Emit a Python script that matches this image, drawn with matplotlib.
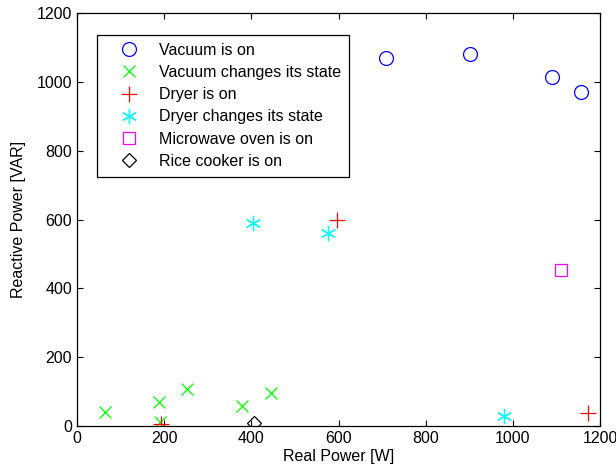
import matplotlib
matplotlib.use('Agg')
import matplotlib.pyplot as plt

plt.rcParams['font.family'] = ['Liberation Sans', 'DejaVu Sans']
plt.rcParams['font.size'] = 11

# readings (real power W, reactive power VAR)
vac_on_x = [709, 902, 1091, 1156]
vac_on_y = [1070, 1081, 1015, 971]
vac_chg_x = [64, 187, 252, 190, 379, 446]
vac_chg_y = [40, 69, 107, 13, 58, 96]
dry_on_x = [192, 597, 1173]
dry_on_y = [6, 600, 37]
dry_chg_x = [404, 575, 980]
dry_chg_y = [590, 560, 30]
micro_x = [1110]
micro_y = [453]
rice_x = [407]
rice_y = [8]

fig = plt.figure(figsize=(6.16, 4.68), dpi=100)
ax = fig.add_axes([77/616, 42/468, 523/616, 413/468])

ms = 10
ax.plot(vac_on_x, vac_on_y, 'o', mfc='none', mec='#0000ff', ms=ms, mew=0.9, label='Vacuum is on')
ax.plot(vac_chg_x, vac_chg_y, 'x', color='#00ff00', ms=ms - 1, mew=0.9, label='Vacuum changes its state')
ax.plot(dry_on_x, dry_on_y, '+', color='#ff0000', ms=ms + 1, mew=0.9, label='Dryer is on')
ax.plot(dry_chg_x, dry_chg_y, ls='none', color='#00ffff', ms=ms + 1, mew=0.9,
        marker=(6, 2, 0), label='Dryer changes its state')
ax.plot(micro_x, micro_y, 's', mfc='none', mec='#ff00ff', ms=ms - 1, mew=0.9, label='Microwave oven is on')
ax.plot(rice_x, rice_y, 'D', mfc='none', mec='black', ms=ms - 2.5, mew=0.9, label='Rice cooker is on')

ax.set_xlim(0, 1200)
ax.set_ylim(0, 1200)
ax.set_xticks(range(0, 1201, 200))
ax.set_yticks(range(0, 1201, 200))
ax.tick_params(direction='in', top=True, right=True, length=4, width=0.8, labelsize=11.5)
for s in ax.spines.values():
    s.set_linewidth(0.9)
ax.set_xlabel('Real Power [W]', labelpad=2, fontsize=11.5)
ax.set_ylabel('Reactive Power [VAR]', labelpad=8, fontsize=11.5)

leg = ax.legend(loc='upper left', bbox_to_anchor=(0.0377, 0.947), borderaxespad=0,
                numpoints=1, fancybox=False, edgecolor='black', framealpha=1,
                fontsize=11.5, borderpad=0.5, labelspacing=0.45, handlelength=3.1,
                handletextpad=0.3)
leg.get_frame().set_linewidth(0.9)

fig.savefig('out.png', dpi=100)
